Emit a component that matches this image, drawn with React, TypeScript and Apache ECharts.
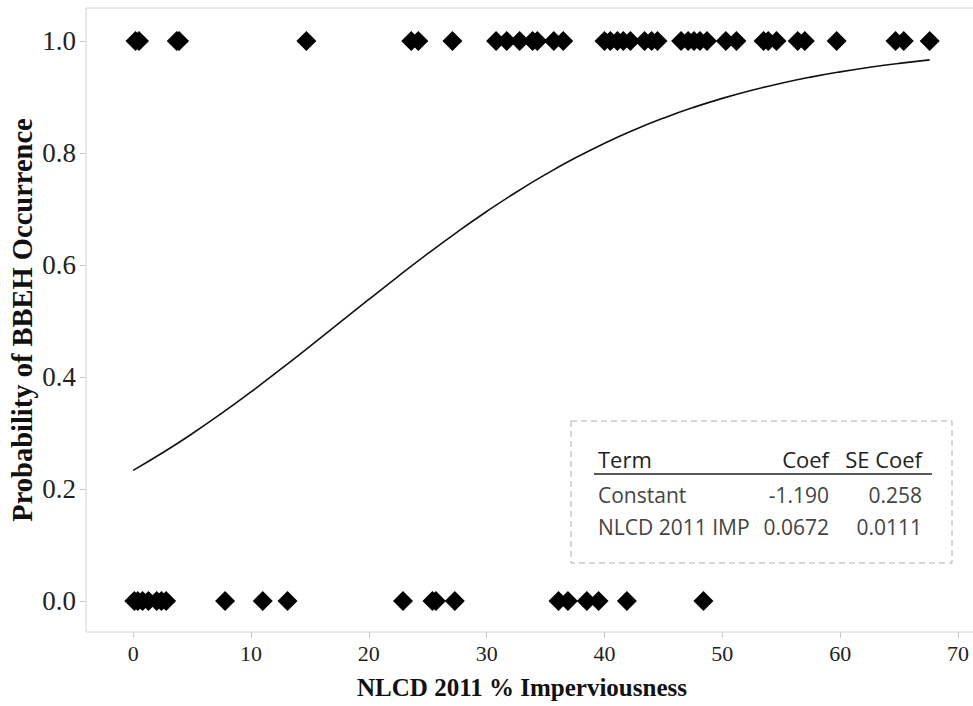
import React, { useEffect, useRef } from "react";
import * as echarts from "echarts";

// Observations: % imperviousness where BBEH was present (y = 1) or absent (y = 0)
const presentX = [
  0.2, 0.5, 3.7, 3.9, 14.7, 23.6, 24.2, 27.1, 30.8, 31.7, 32.8, 33.9, 34.3,
  35.7, 36.5, 40.0, 40.5, 41.1, 41.6, 42.2, 43.4, 44.0, 44.5, 46.5, 47.1,
  47.6, 48.1, 48.7, 50.3, 51.2, 53.5, 53.9, 54.6, 56.4, 57.0, 59.7, 64.7,
  65.4, 67.6,
];
const absentX = [
  0.1, 0.4, 0.8, 1.3, 2.0, 2.4, 2.8, 7.8, 11.0, 13.1, 22.9, 25.4, 25.7, 27.3,
  36.1, 36.9, 38.5, 39.5, 41.9, 48.4,
];

// Fitted probability curve
const curveX = [
  0, 2.5, 5, 7.5, 10, 12.5, 15, 17.5, 20, 22.5, 25, 27.5, 30, 32.5, 35, 37.5,
  40, 42.5, 45, 47.5, 50, 52.5, 55, 57.5, 60, 62.5, 65, 67.6,
];
const curveP = [
  0.2333, 0.2646, 0.2986, 0.3349, 0.3733, 0.4134, 0.4546, 0.4965, 0.5384,
  0.5798, 0.6201, 0.6588, 0.6955, 0.7299, 0.7617, 0.7909, 0.8173, 0.841,
  0.8622, 0.881, 0.8975, 0.912, 0.9246, 0.9355, 0.9449, 0.953, 0.96, 0.9662,
];

const xTicks = [0, 10, 20, 30, 40, 50, 60, 70];
const yTicks = [0, 0.2, 0.4, 0.6, 0.8, 1.0];

const tableHeader = ["Term", "Coef", "SE Coef"];
const tableRows = [
  ["Constant", "-1.190", "0.258"],
  ["NLCD 2011 IMP", "0.0672", "0.0111"],
];

const SERIF = "'Liberation Serif', 'Times New Roman', serif";
const SANS = "'Open Sans', 'Noto Sans', sans-serif";

export default function App() {
  const ref = useRef<HTMLDivElement>(null);

  useEffect(() => {
    if (!ref.current) return;
    const chart = echarts.init(ref.current, null, { renderer: "svg" });

    const colX = [598, 829, 922];
    const rowY = [459, 495, 527];
    const tableText: any[] = [];
    tableHeader.forEach((t, i) => {
      tableText.push({
        type: "text",
        x: colX[i],
        y: rowY[0],
        style: {
          text: t,
          font: `22px ${SANS}`,
          fill: "#222",
          align: i === 0 ? "left" : "right",
          verticalAlign: "middle",
        },
      });
    });
    tableRows.forEach((row, r) => {
      row.forEach((t, i) => {
        tableText.push({
          type: "text",
          x: colX[i],
          y: rowY[r + 1],
          style: {
            text: t,
            font: `21px ${SANS}`,
            fill: "#444",
            align: i === 0 ? "left" : "right",
            verticalAlign: "middle",
          },
        });
      });
    });

    chart.setOption({
      animation: false,
      backgroundColor: "#fff",
      grid: {
        left: 86,
        top: 8,
        width: 890,
        height: 624,
        show: true,
        containLabel: false,
        outerBoundsMode: "none",
        borderColor: "#d2d2d2",
        borderWidth: 1,
        backgroundColor: "transparent",
      },
      xAxis: {
        type: "value",
        min: -4,
        max: 71.53,
        splitLine: { show: false },
        axisLine: { show: false, onZero: false },
        axisTick: {
          show: true,
          length: 6,
          lineStyle: { color: "#c8c8c8" },
          customValues: xTicks,
        },
        axisLabel: {
          customValues: xTicks,
          fontFamily: SERIF,
          fontSize: 22,
          color: "#222",
          margin: 10,
        },
        name: "NLCD 2011 % Imperviousness",
        nameLocation: "middle",
        nameGap: 43,
        nameMoveOverlap: false,
        nameTextStyle: {
          fontFamily: SERIF,
          fontWeight: "bold",
          fontSize: 25,
          color: "#111",
          padding: [0, 18, 0, 0],
        },
      },
      yAxis: {
        type: "value",
        min: -0.0554,
        max: 1.0589,
        splitLine: { show: false },
        axisLine: { show: false, onZero: false },
        axisTick: {
          show: true,
          length: 6,
          lineStyle: { color: "#c8c8c8" },
          customValues: yTicks,
        },
        axisLabel: {
          customValues: yTicks,
          formatter: (v: number) => v.toFixed(1),
          fontFamily: SERIF,
          fontSize: 27,
          color: "#222",
          margin: 10,
        },
        name: "Probability of BBEH Occurrence",
        nameLocation: "middle",
        nameGap: 49,
        nameMoveOverlap: false,
        nameTextStyle: {
          fontFamily: SERIF,
          fontWeight: "bold",
          fontSize: 28.5,
          color: "#111",
        },
      },
      series: [
        {
          type: "line",
          data: curveX.map((x, i) => [x, curveP[i]]),
          smooth: true,
          showSymbol: false,
          lineStyle: { color: "#111", width: 1.6 },
          z: 2,
        },
        {
          type: "scatter",
          data: presentX.map((x) => [x, 1]),
          symbol: "diamond",
          symbolSize: 20,
          itemStyle: { color: "#000", opacity: 1 },
          z: 3,
        },
        {
          type: "scatter",
          data: absentX.map((x) => [x, 0]),
          symbol: "diamond",
          symbolSize: 20,
          itemStyle: { color: "#000", opacity: 1 },
          z: 3,
        },
      ],
      graphic: [
        {
          type: "rect",
          shape: { x: 571, y: 421, width: 381, height: 142 },
          style: {
            fill: "#fff",
            stroke: "#b0b0b0",
            lineWidth: 1,
            lineDash: [6, 4],
          },
          z: 10,
        },
        {
          type: "line",
          shape: { x1: 594, y1: 474, x2: 932, y2: 474 },
          style: { stroke: "#222", lineWidth: 1.5 },
          z: 11,
        },
        ...tableText.map((t) => ({ ...t, z: 11 })),
      ],
    });

    return () => chart.dispose();
  }, []);

  return (
    <div
      ref={ref}
      style={{ position: "absolute", left: 0, top: 0, width: 973, height: 706 }}
    />
  );
}
